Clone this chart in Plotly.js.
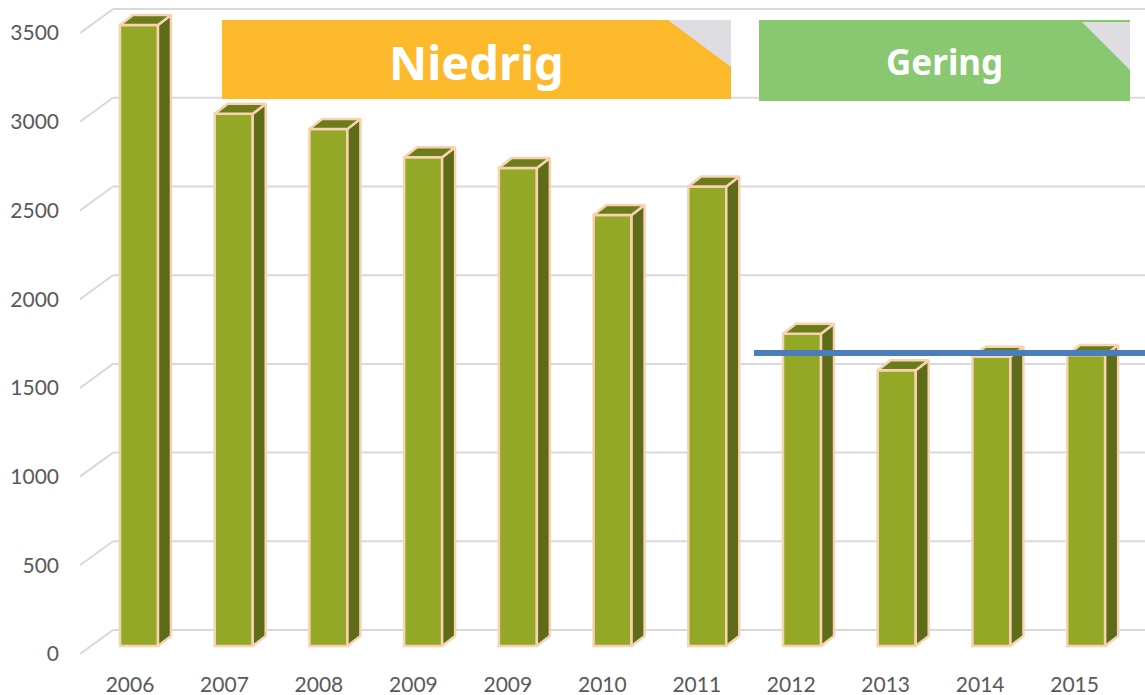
<!DOCTYPE html>
<html>
<head>
<meta charset="utf-8">
<script src="https://cdn.plot.ly/plotly-3.0.1.min.js"></script>
<style>html,body{margin:0;padding:0;background:#fff;overflow:hidden}#c{width:1145px;height:695px}</style>
</head>
<body>
<div id="c"></div>
<script>
var yearLabels = ["2006","2007","2008","2009","2009","2010","2011","2012","2013","2014","2015"];
var values = [3500,3000,2915,2755,2695,2430,2590,1760,1555,1630,1640];
var yTicks = [0,500,1000,1500,2000,2500,3000,3500];
var referenceLevel = 1697;
var bannerLabels = ["Niedrig","Gering"];

var W = 1145, H = 695, mL = 80, mB = 25;
var xMin = -0.5285, xMax = 10.729, yMin = -90.2, yMax = 3686.6;
var pxX = (xMax - xMin) / (W - mL), pxY = (yMax - yMin) / (H - mB);
var idx = yearLabels.map(function(_, i){ return i; });

var barStep = 1.0012, labelStep = 0.9985;
var barShift = 9 * pxX, halfW = 19 * pxX, barBase = 8 * pxY;
var depthX = 13 * pxX, depthY = 10 * pxY;
var wallX = 33 * pxX, wallY = 24 * pxY;
var edge = "#F8D3B2", gridColor = "#D9D9D9";
var barX = idx.map(function(i){ return i * barStep + barShift; });

var sideX = [], sideY = [], topX = [], topY = [];
values.forEach(function(v, i){
  var r = barX[i] + halfW, l = barX[i] - halfW, b = barBase, t = barBase + v;
  sideX.push(r, r + depthX, r + depthX, r, r, null);
  sideY.push(b, b + depthY, t + depthY, t, b, null);
  topX.push(l, l + depthX, r + depthX, r, l, null);
  topY.push(t, t + depthY, t + depthY, t, t, null);
});

var data = [
  {type:"bar", x:barX, y:values, base:barBase, width:2 * halfW,
   marker:{color:"#93A826", line:{color:edge, width:2.5}}, hoverinfo:"skip"},
  {type:"scatter", mode:"lines", x:sideX, y:sideY, fill:"toself", fillcolor:"#5E6B18", line:{color:edge, width:2.5}, hoverinfo:"skip"},
  {type:"scatter", mode:"lines", x:topX, y:topY, fill:"toself", fillcolor:"#6C7C1A", line:{color:edge, width:2.5}, hoverinfo:"skip"},
  {type:"scatter", mode:"lines", x:[(754 - 130) / 94.6, xMax], y:[referenceLevel, referenceLevel],
   line:{color:"#4A7EBB", width:6}, hoverinfo:"skip"}
];

function fx(p){ return (p - mL) / (W - mL); }
function fy(p){ return 1 - p / (H - mB); }
function rect(x0, y0, x1, y1, c){
  return {type:"rect", xref:"paper", yref:"paper", x0:fx(x0), x1:fx(x1), y0:fy(y0), y1:fy(y1),
          fillcolor:c, line:{width:0}, layer:"above"};
}
function tri(x0, x1, y0, y1){
  return {type:"path", xref:"paper", yref:"paper",
          path:"M"+fx(x0)+" "+fy(y0)+" L"+fx(x1)+" "+fy(y0)+" L"+fx(x1)+" "+fy(y1)+" Z",
          fillcolor:"#DEDEE2", line:{width:0}, layer:"above"};
}
var gridShapes = [];
yTicks.forEach(function(t){
  gridShapes.push({type:"line", xref:"x", yref:"y", x0:xMin, y0:t, x1:xMin + wallX, y1:t + wallY,
                   line:{color:gridColor, width:2}, layer:"below"});
  gridShapes.push({type:"line", xref:"x", yref:"y", x0:xMin + wallX, y0:t + wallY, x1:xMax, y1:t + wallY,
                   line:{color:gridColor, width:2}, layer:"below"});
});

var layout = {
  width:W, height:H, showlegend:false, paper_bgcolor:"#fff", plot_bgcolor:"rgba(0,0,0,0)",
  margin:{l:mL, r:0, t:0, b:mB, pad:0},
  font:{family:"Lato, sans-serif", color:"#595959", size:21},
  xaxis:{range:[xMin, xMax], tickmode:"array", tickvals:idx.map(function(i){ return i * labelStep; }), ticktext:yearLabels,
         showgrid:false, zeroline:false, showline:false, ticks:"", tickfont:{size:21, color:"#595959"}, fixedrange:true},
  yaxis:{range:[yMin, yMax], tickmode:"array", tickvals:yTicks, ticktext:yTicks.map(String), showgrid:false, zeroline:false,
         showline:false, ticks:"", ticklabelstandoff:20, tickfont:{size:21, color:"#595959"}, fixedrange:true},
  shapes:gridShapes.concat([
    rect(222, 20, 731, 99, "#FDB92C"),
    tri(668, 731, 20, 67),
    rect(759, 20, 1130, 101, "#89C771"),
    tri(1082, 1130, 22, 70)
  ]),
  annotations:[
    {xref:"paper", yref:"paper", x:fx(476), y:fy(62), xanchor:"center", yanchor:"middle", text:"<b>"+bannerLabels[0]+"</b>", showarrow:false,
     font:{family:"'Noto Sans', sans-serif", size:47, color:"#FFFFFF"}},
    {xref:"paper", yref:"paper", x:fx(944), y:fy(62), xanchor:"center", yanchor:"middle", text:"<b>"+bannerLabels[1]+"</b>", showarrow:false,
     font:{family:"'Noto Sans', sans-serif", size:35, color:"#FFFFFF"}}
  ]
};
Plotly.newPlot("c", data, layout, {displayModeBar:false, staticPlot:true});
</script>
</body>
</html>
